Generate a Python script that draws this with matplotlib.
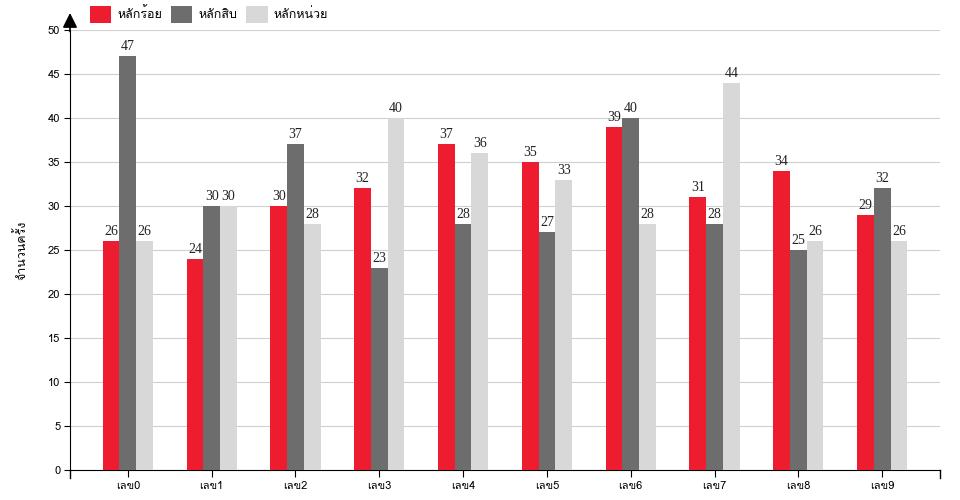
import matplotlib
matplotlib.use("Agg")
import matplotlib.pyplot as plt
from matplotlib import font_manager
from matplotlib.ft2font import FT2Font
import numpy as np

categories = ["เลข0", "เลข1", "เลข2", "เลข3", "เลข4", "เลข5", "เลข6", "เลข7", "เลข8", "เลข9"]
series_names = ["หลักร้อย", "หลักสิบ", "หลักหน่วย"]
hundreds = [26, 24, 30, 32, 37, 35, 39, 31, 34, 29]
tens = [47, 30, 37, 23, 28, 27, 40, 28, 25, 32]
units = [26, 30, 28, 40, 36, 33, 28, 44, 26, 26]
colors = ["#ED1C2E", "#6D6D6D", "#D8D8D8"]


def find_thai_font():
    # หา font ที่มีตัวอักษรไทย
    for f in font_manager.fontManager.ttflist:
        try:
            if 0x0E01 in FT2Font(f.fname).get_charmap():
                return f.name
        except Exception:
            pass
    return None


thai = find_thai_font()
fam = [thai, "DejaVu Sans"] if thai else ["DejaVu Sans"]
plt.rcParams["font.family"] = fam

fig = plt.figure(figsize=(9.6, 5), dpi=100)
ax = fig.add_axes([70 / 960, 30 / 500, 870 / 960, 440 / 500])

x = np.arange(len(categories))
w = 0.2
for i, (vals, name) in enumerate(zip([hundreds, tens, units], series_names)):
    bars = ax.bar(x + (i - 1) * w, vals, w, color=colors[i], label=name, zorder=3)
    for b, v in zip(bars, vals):
        ax.text(b.get_x() + b.get_width() / 2, v + 0.35, str(v), ha="center", va="bottom",
                fontsize=10, family="Liberation Serif", color="#222222", zorder=4)

ax.set_xlim(-0.69, 9.69)
ax.set_ylim(0, 50)
ax.set_yticks(range(0, 51, 5))
ax.set_xticks(x)
ax.set_xticklabels(categories, fontsize=8)
ax.tick_params(axis="y", labelsize=8, length=4, pad=3)
ax.tick_params(axis="x", length=5, pad=3)
ax.yaxis.grid(True, color="#D0D0D0", linewidth=0.8, zorder=0)
for s in ["top", "right"]:
    ax.spines[s].set_visible(False)
ax.spines["left"].set_zorder(5)
ax.set_ylabel("จำนวนครั้ง", fontsize=9, labelpad=14)

# ticks ที่ปลายแกน x
for xe in [-0.69, 9.69]:
    ax.plot([xe, xe], [0, -0.9], color="black", linewidth=1, clip_on=False)

# ลูกศรบนแกน y
ax.annotate("", xy=(0, 1.045), xytext=(0, 0.99), xycoords="axes fraction",
            arrowprops=dict(arrowstyle="-|>", color="black", lw=1.2, mutation_scale=22))

ax.legend(loc="center left", bbox_to_anchor=(0.023, 1.036), ncol=3, frameon=False, fontsize=9,
          handlelength=1.7, handleheight=1.7, handletextpad=0.5, columnspacing=0.7,
          borderaxespad=0, borderpad=0)

fig.savefig("out.png", dpi=100)
